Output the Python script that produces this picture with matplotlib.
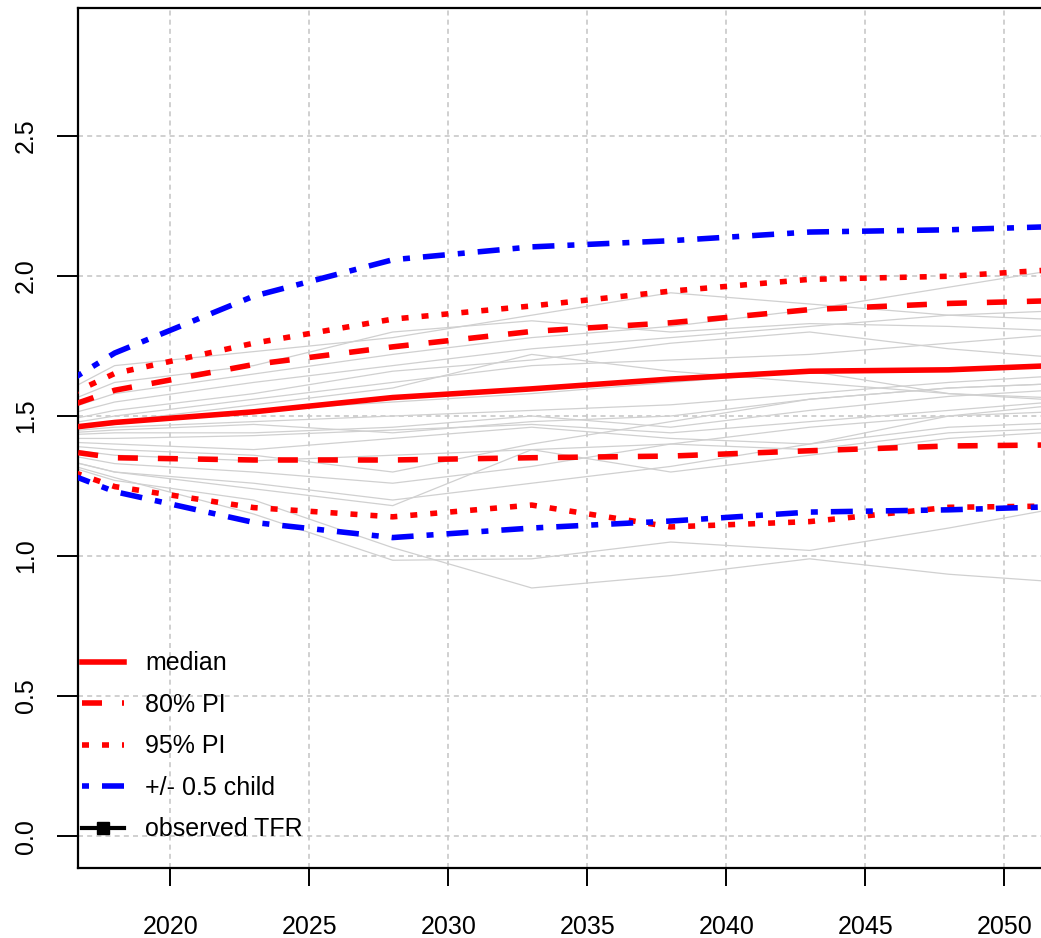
import numpy as np
import matplotlib.pyplot as plt
from matplotlib.lines import Line2D

plt.rcParams['font.family'] = ['Liberation Sans', 'DejaVu Sans']

# projection years (5-year steps, first point = last observed period)
years = [2013, 2018, 2023, 2028, 2033, 2038, 2043, 2048, 2053]

median = [1.42, 1.477, 1.515, 1.566, 1.597, 1.632, 1.660, 1.665, 1.685]
pi80_up = [1.42, 1.592, 1.684, 1.747, 1.802, 1.833, 1.880, 1.902, 1.915]
pi80_lo = [1.42, 1.351, 1.343, 1.343, 1.351, 1.357, 1.376, 1.393, 1.398]
pi95_up = [1.42, 1.652, 1.760, 1.846, 1.893, 1.946, 1.988, 1.999, 2.030]
pi95_lo = [1.42, 1.248, 1.173, 1.140, 1.182, 1.104, 1.123, 1.174, 1.180]
half_up = [1.42, 1.725, 1.928, 2.058, 2.104, 2.126, 2.157, 2.165, 2.180]
half_lo = [1.42, 1.230, 1.120, 1.066, 1.100, 1.125, 1.157, 1.165, 1.180]

# sampled trajectories
trajectories = [
    [1.42, 1.68, 1.73, 1.78, 1.86, 1.94, 1.90, 1.86, 1.84],
    [1.42, 1.58, 1.65, 1.72, 1.78, 1.82, 1.88, 1.96, 2.04],
    [1.42, 1.55, 1.62, 1.68, 1.74, 1.78, 1.82, 1.86, 1.88],
    [1.42, 1.52, 1.58, 1.66, 1.70, 1.76, 1.80, 1.74, 1.70],
    [1.42, 1.50, 1.56, 1.62, 1.68, 1.70, 1.72, 1.76, 1.80],
    [1.42, 1.48, 1.54, 1.60, 1.72, 1.66, 1.62, 1.58, 1.55],
    [1.42, 1.47, 1.52, 1.55, 1.58, 1.62, 1.66, 1.58, 1.56],
    [1.42, 1.46, 1.48, 1.50, 1.52, 1.54, 1.58, 1.62, 1.65],
    [1.42, 1.45, 1.47, 1.44, 1.48, 1.50, 1.56, 1.60, 1.62],
    [1.42, 1.44, 1.44, 1.46, 1.50, 1.46, 1.52, 1.57, 1.60],
    [1.42, 1.42, 1.43, 1.45, 1.47, 1.44, 1.48, 1.52, 1.56],
    [1.42, 1.40, 1.38, 1.42, 1.46, 1.42, 1.40, 1.50, 1.55],
    [1.42, 1.38, 1.36, 1.30, 1.40, 1.48, 1.56, 1.60, 1.62],
    [1.42, 1.36, 1.34, 1.36, 1.38, 1.40, 1.38, 1.44, 1.46],
    [1.42, 1.33, 1.30, 1.26, 1.32, 1.40, 1.46, 1.50, 1.52],
    [1.42, 1.30, 1.26, 1.20, 1.26, 1.32, 1.40, 1.46, 1.48],
    [1.42, 1.30, 1.24, 1.18, 1.38, 1.30, 1.36, 1.42, 1.45],
    [1.42, 1.28, 1.15, 0.985, 0.99, 1.05, 1.02, 1.10, 1.19],
    [1.42, 1.27, 1.20, 1.03, 0.886, 0.93, 0.99, 0.935, 0.90],
    [1.42, 1.62, 1.68, 1.80, 1.84, 1.80, 1.83, 1.82, 1.80],
]

xticks = [2020, 2025, 2030, 2035, 2040, 2045, 2050]
yticks = [0.0, 0.5, 1.0, 1.5, 2.0, 2.5]

W, H = 1041, 938
fig = plt.figure(figsize=(W / 100, H / 100), dpi=100)
xlim = (2016.68, 2054.4)
px_per_year = 27.8
ax_w = (xlim[1] - xlim[0]) * px_per_year
ax = fig.add_axes([78 / W, (H - 868) / H, ax_w / W, 860 / H])
ax.set_xlim(*xlim)
ax.set_ylim(-0.114, 2.957)

ax.grid(True, color='#c8c8c8', linestyle=(0, (3, 2.5)), linewidth=1.2)
ax.set_axisbelow(True)

for tr in trajectories:
    ax.plot(years, tr, color='#d0d0d0', lw=0.9, zorder=2)

lw = 4
dashed = (0, (3.6, 3.6))
dotted = (0, (1.26, 2.34))
dotdash = (0, (1.26, 2.34, 3.96, 2.34))

ax.plot(years, median, color='red', lw=lw, zorder=4)
ax.plot(years, pi80_up, color='red', lw=lw, linestyle=dashed, zorder=4)
ax.plot(years, pi80_lo, color='red', lw=lw, linestyle=dashed, zorder=4)
ax.plot(years, pi95_up, color='red', lw=lw, linestyle=dotted, zorder=4)
ax.plot(years, pi95_lo, color='red', lw=lw, linestyle=dotted, zorder=4)
ax.plot(years, half_up, color='blue', lw=lw, linestyle=dotdash, zorder=5)
ax.plot(years, half_lo, color='blue', lw=lw, linestyle=dotdash, zorder=5)

ax.set_xticks(xticks)
ax.set_yticks(yticks)
ax.set_yticklabels([f"{v:.1f}" for v in yticks], rotation=90, va='center')
ax.tick_params(axis='y', length=15, width=1.4, pad=14, labelsize=18)
ax.tick_params(axis='x', length=13, width=1.4, pad=21, labelsize=18)
for s in ax.spines.values():
    s.set_linewidth(1.6)

handles = [
    Line2D([], [], color='red', lw=lw),
    Line2D([], [], color='red', lw=lw, linestyle=dashed),
    Line2D([], [], color='red', lw=lw, linestyle=dotted),
    Line2D([], [], color='blue', lw=lw, linestyle=dotdash),
    Line2D([], [], color='black', lw=3, marker='s', markersize=8),
]
labels = ["median", "80% PI", "95% PI", "+/- 0.5 child", "observed TFR"]
ax.legend(handles, labels, loc='lower left', bbox_to_anchor=(4 / ax_w, 0.031),
          frameon=False, fontsize=18, borderpad=0, borderaxespad=0,
          handlelength=1.68, handletextpad=0.84, labelspacing=0.7)

fig.savefig("out.png", dpi=100)
